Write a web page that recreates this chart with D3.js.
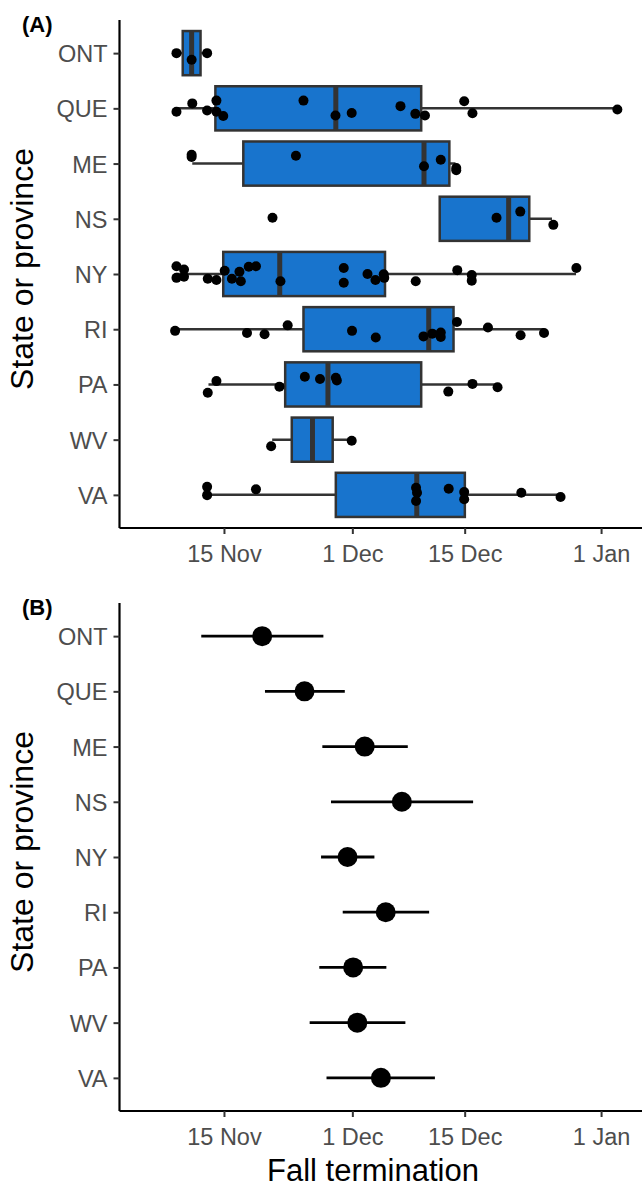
<!DOCTYPE html>
<html>
<head>
<meta charset="utf-8">
<script src="https://cdn.jsdelivr.net/npm/d3@7"></script>
<style>
  body { margin: 0; background: #fff; }
  text { font-family: "Liberation Sans", Arial, sans-serif; }
</style>
</head>
<body>
<svg id="chart" width="642" height="1187"></svg>
<script>
// days are counted from 1 Nov (1 Nov = 0)
const states = ["ONT", "QUE", "ME", "NS", "NY", "RI", "PA", "WV", "VA"];
const tickDays = [14, 30, 44, 61];
const tickLabels = ["15 Nov", "1 Dec", "15 Dec", "1 Jan"];

// panel A boxplot summaries
const boxMin = [8.08, 8.08, 10.05, 40.89, 8.08, 7.91, 12.07, 20.01, 11.98];
const boxQ1  = [8.86, 12.93, 16.41, 40.89, 13.91, 23.91, 21.63, 22.45, 27.94];
const boxMed = [9.97, 27.94, 38.93, 49.48, 20.95, 39.52, 26.96, 25.03, 38.03];
const boxQ3  = [11.08, 38.58, 42.09, 52.05, 34.07, 42.61, 38.58, 27.55, 44.02];
const boxMax = [11.90, 63.03, 42.86, 54.88, 57.88, 53.89, 48.10, 29.92, 55.95];

// panel A jittered observations: [state, day, vertical jitter]
const obs = [
  ["ONT", 8.08, 0], ["ONT", 9.97, 0.12], ["ONT", 11.90, 0],
  ["QUE", 8.08, 0.06], ["QUE", 10.05, -0.09], ["QUE", 11.90, 0.04], ["QUE", 13.06, -0.14],
  ["QUE", 13.06, 0.06], ["QUE", 13.91, 0.14], ["QUE", 23.91, -0.14], ["QUE", 27.90, 0.13],
  ["QUE", 29.92, 0.085], ["QUE", 36.0, -0.04], ["QUE", 37.85, 0.10], ["QUE", 39.05, 0.13],
  ["QUE", 43.94, -0.13], ["QUE", 44.97, 0.09], ["QUE", 63.03, 0.02],
  ["ME", 9.97, -0.16], ["ME", 9.97, -0.12], ["ME", 22.97, -0.14], ["ME", 38.93, 0.05],
  ["ME", 41.02, -0.07], ["ME", 42.95, 0.08], ["ME", 42.95, 0.12],
  ["NS", 20.05, -0.02], ["NS", 47.97, -0.02], ["NS", 50.93, -0.13], ["NS", 55.05, 0.11],
  ["NY", 8.08, -0.14], ["NY", 8.08, 0.07], ["NY", 9.02, -0.08], ["NY", 9.02, 0.05],
  ["NY", 11.98, 0.085], ["NY", 13.06, 0.11], ["NY", 14.09, -0.06], ["NY", 14.99, 0.085],
  ["NY", 15.93, -0.04], ["NY", 16.10, 0.13], ["NY", 17.09, -0.13], ["NY", 17.99, -0.14],
  ["NY", 21.04, 0.13], ["NY", 28.93, -0.11], ["NY", 28.93, 0.16], ["NY", 31.89, 0],
  ["NY", 32.88, 0.11], ["NY", 33.91, 0.005], ["NY", 33.98, 0.07], ["NY", 37.90, 0.13],
  ["NY", 43.08, -0.07], ["NY", 44.88, 0.02], ["NY", 44.88, 0.12], ["NY", 57.92, -0.11],
  ["RI", 7.91, 0.03], ["RI", 16.87, 0.07], ["RI", 19.06, 0.09], ["RI", 21.94, -0.07],
  ["RI", 29.96, 0.03], ["RI", 32.92, 0.15], ["RI", 38.87, 0.13], ["RI", 39.96, 0.08],
  ["RI", 41.02, 0.06], ["RI", 41.02, 0.14], ["RI", 43.04, -0.13], ["RI", 46.90, -0.03],
  ["RI", 50.97, 0.11], ["RI", 53.89, 0.07],
  ["PA", 11.98, 0.15], ["PA", 13.06, -0.06], ["PA", 20.91, 0.04], ["PA", 24.08, -0.14],
  ["PA", 25.97, -0.10], ["PA", 27.94, -0.12], ["PA", 28.07, -0.07], ["PA", 41.96, 0.13],
  ["PA", 44.97, -0.01], ["PA", 48.10, 0.05],
  ["WV", 19.88, 0.12], ["WV", 29.92, 0.02],
  ["VA", 11.90, -0.145], ["VA", 11.90, 0.005], ["VA", 17.99, -0.10], ["VA", 37.94, -0.13],
  ["VA", 38.06, -0.04], ["VA", 37.94, 0.11], ["VA", 42.01, -0.11], ["VA", 43.94, -0.05],
  ["VA", 43.94, 0.08], ["VA", 51.06, -0.04], ["VA", 55.95, 0.04]
];

// panel B estimates with intervals
const estMean = [18.76, 24.04, 31.54, 36.17, 29.40, 34.16, 30.10, 30.62, 33.56];
const estLow  = [11.17, 19.11, 26.26, 27.34, 26.10, 28.80, 25.88, 24.68, 26.78];
const estHigh = [26.39, 29.06, 36.91, 45.05, 32.75, 39.57, 34.24, 36.61, 40.29];

const svg = d3.select("#chart");
const left = 119.5, right = 642;
const boxFill = "#1874CD", lineCol = "#333333";

const x = d3.scaleLinear().domain([0.98, 66.1]).range([left, right]);

function panel(top, bottom, label, withTitle) {
  const y = d3.scalePoint().domain(states).range([top, bottom]).padding(0.6);
  const g = svg.append("g");

  const xAxis = d3.axisBottom(x).tickValues(tickDays)
    .tickFormat((d, i) => tickLabels[i]).tickSize(6).tickPadding(6);
  const xg = g.append("g").attr("transform", `translate(0,${bottom})`).call(xAxis);
  xg.select(".domain").attr("stroke", "#000").attr("stroke-width", 2.2)
    .attr("d", `M${left},0H${right}`);
  xg.selectAll(".tick line").attr("stroke", lineCol).attr("stroke-width", 2);
  xg.selectAll(".tick text").attr("fill", "#4d4d4d").style("font-size", "23.5px")
    .attr("dy", "0.95em");

  const yAxis = d3.axisLeft(y).tickSize(6).tickPadding(6);
  const yg = g.append("g").attr("transform", `translate(${left},0)`).call(yAxis);
  yg.select(".domain").attr("stroke", "#000").attr("stroke-width", 2.2)
    .attr("d", `M0,${top}V${bottom}`);
  yg.selectAll(".tick line").attr("stroke", lineCol).attr("stroke-width", 2);
  yg.selectAll(".tick text").attr("fill", "#4d4d4d").style("font-size", "23.5px")
    .attr("dy", "0.36em");

  svg.append("text").attr("x", 22).attr("y", top + 12)
    .style("font-size", "22px").style("font-weight", "bold").text(label);

  svg.append("text")
    .attr("transform", `translate(33,${(top + bottom) / 2 - 5}) rotate(-90)`)
    .attr("text-anchor", "middle").style("font-size", "32px").text("State or province");

  if (withTitle) {
    svg.append("text").attr("x", 373).attr("y", 1181)
      .attr("text-anchor", "middle").style("font-size", "31px").text("Fall termination");
  }
  return {g, y};
}

// ---- panel A
const A = panel(20, 528, "(A)", false);
const bh = A.y.step() * 0.8;
const boxes = A.g.append("g").selectAll("g").data(states).join("g")
  .attr("transform", s => `translate(0,${A.y(s)})`);

boxes.append("line")
  .attr("x1", (s, i) => x(boxMin[i])).attr("x2", (s, i) => x(boxMax[i]))
  .attr("stroke", lineCol).attr("stroke-width", 2.5);
boxes.append("rect")
  .attr("x", (s, i) => x(boxQ1[i])).attr("width", (s, i) => x(boxQ3[i]) - x(boxQ1[i]))
  .attr("y", -bh / 2).attr("height", bh)
  .attr("fill", boxFill).attr("stroke", lineCol).attr("stroke-width", 2.5);
boxes.append("line")
  .attr("x1", (s, i) => x(boxMed[i])).attr("x2", (s, i) => x(boxMed[i]))
  .attr("y1", -bh / 2).attr("y2", bh / 2)
  .attr("stroke", lineCol).attr("stroke-width", 5);

A.g.append("g").selectAll("circle").data(obs).join("circle")
  .attr("cx", d => x(d[1]))
  .attr("cy", d => A.y(d[0]) + d[2] * A.y.step())
  .attr("r", 5).attr("fill", "#000");

// ---- panel B
const B = panel(603, 1111, "(B)", true);
const rows = B.g.append("g").selectAll("g").data(states).join("g")
  .attr("transform", s => `translate(0,${B.y(s)})`);
rows.append("line")
  .attr("x1", (s, i) => x(estLow[i])).attr("x2", (s, i) => x(estHigh[i]))
  .attr("stroke", "#000").attr("stroke-width", 2.8);
rows.append("circle")
  .attr("cx", (s, i) => x(estMean[i])).attr("r", 10).attr("fill", "#000");
</script>
</body>
</html>
